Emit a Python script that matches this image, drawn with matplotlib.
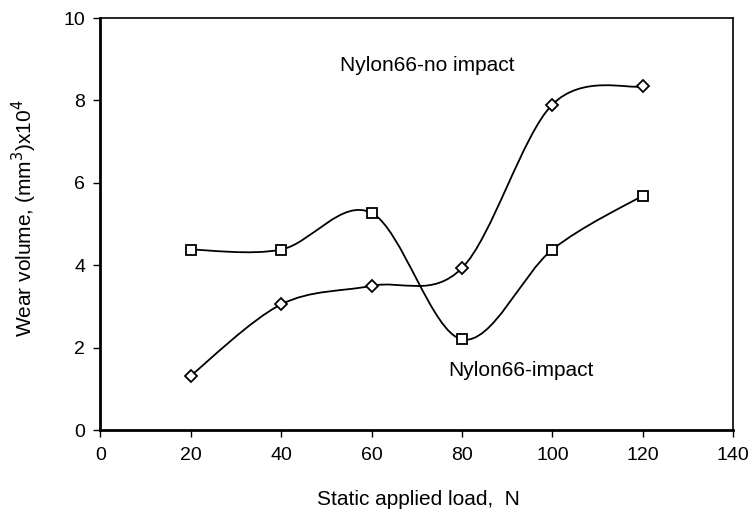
import numpy as np
import matplotlib.pyplot as plt
from matplotlib.path import Path
from matplotlib.patches import PathPatch

plt.rcParams['font.family'] = ['Liberation Sans', 'DejaVu Sans']

load = [20, 40, 60, 80, 100, 120]
wear_square = [4.38, 4.38, 5.27, 2.20, 4.38, 5.69]
wear_diamond = [1.32, 3.05, 3.50, 3.93, 7.90, 8.34]


def smooth_path(x, y):
    # cubic Bezier through every point, tangents from neighbours (tension 1/6)
    pts = np.column_stack([x, y]).astype(float)
    ext = np.vstack([pts[0], pts, pts[-1]])
    verts = [pts[0]]
    codes = [Path.MOVETO]
    for i in range(len(pts) - 1):
        p0, p1, p2, p3 = ext[i], ext[i + 1], ext[i + 2], ext[i + 3]
        c1 = p1 + (p2 - p0) / 6.0
        c2 = p2 - (p3 - p1) / 6.0
        verts += [c1, c2, p2]
        codes += [Path.CURVE4] * 3
    return Path(verts, codes)


fig = plt.figure(figsize=(7.55, 5.15), dpi=100)
ax = fig.add_axes([0.133, 0.165, 0.838, 0.800])

for ys, mk, ms in [(wear_square, 's', 7.0), (wear_diamond, 'D', 6.3)]:
    ax.add_patch(PathPatch(smooth_path(load, ys), fill=False,
                           edgecolor='black', linewidth=1.3, zorder=2))
    ax.plot(load, ys, linestyle='none', marker=mk, markersize=ms,
            markerfacecolor='white', markeredgecolor='black',
            markeredgewidth=1.3, zorder=3)

ax.text(72.4, 8.85, 'Nylon66-no impact', fontsize=15, ha='center', va='center')
ax.text(93, 1.45, 'Nylon66-impact', fontsize=15, ha='center', va='center')

ax.set_xlim(0, 140)
ax.set_ylim(0, 10)
ax.set_xticks(range(0, 141, 20))
ax.set_yticks(range(0, 11, 2))
ax.tick_params(direction='out', length=5, width=1, labelsize=14)
ax.tick_params(axis='x', pad=7.5)
ax.tick_params(axis='y', pad=6)

ax.spines['left'].set_linewidth(2)
ax.spines['bottom'].set_linewidth(2)
ax.spines['top'].set_linewidth(1.2)
ax.spines['right'].set_linewidth(1.2)

ax.set_xlabel('Static applied load,  N', fontsize=15)
ax.set_ylabel('Wear volume, (mm$^3$)x10$^4$', fontsize=15)
ax.xaxis.set_label_coords(0.503, -0.146)
ax.yaxis.set_label_coords(-0.097, 0.515)

fig.savefig('out.png', dpi=100)
